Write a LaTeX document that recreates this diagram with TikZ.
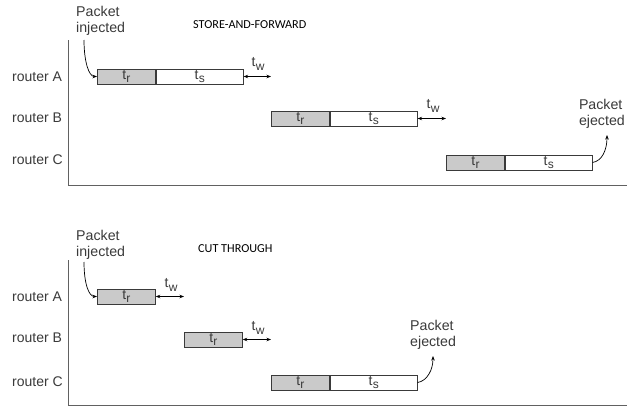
\documentclass[tikz,border=0pt]{standalone}
\usepackage{fontspec}
\setmainfont{Liberation Sans}
\newfontfamily\titlefont{Carlito}
\usetikzlibrary{arrows.meta}

\definecolor{boxgray}{HTML}{CACACA}
\definecolor{ink}{HTML}{3A3A3A}

\newcommand{\tsub}[1]{t\kern0.3pt\raisebox{-3.5pt}{\fontsize{12}{12}\selectfont #1}}

\tikzset{
  lbl/.style={font=\fontsize{14}{16}\selectfont, text=ink, inner sep=0pt},
  note/.style={font=\fontsize{14.2}{16.5}\selectfont, text=ink, inner sep=0pt, align=left},
  heading/.style={font=\titlefont\fontsize{12.2}{14}\selectfont, text=black, inner sep=0pt},
  phase/.style={draw=ink, line width=0.8pt, minimum height=15pt, inner sep=0pt,
                font=\fontsize{14}{14}\selectfont, text=ink},
  trbox/.style={phase, fill=boxgray, minimum width=58pt},
  tsbox/.style={phase, fill=white, minimum width=87pt},
  axis/.style={draw=ink!80, line width=0.9pt},
  wait/.style={draw=black, line width=0.7pt, {Stealth[length=4.5pt,width=3.5pt]}-{Stealth[length=4.5pt,width=3.5pt]}},
  tw/.style={font=\fontsize{14}{14}\selectfont, text=ink, inner sep=0pt},
  flow/.style={draw=black, line width=0.7pt, -{Stealth[length=4.5pt,width=3.5pt]}}
}

\begin{document}
\begin{tikzpicture}[x=1pt,y=-1pt]
\useasboundingbox (0,0) rectangle (627,407);

% ---------------- store-and-forward ----------------
\draw[axis] (68,40) -- (68,185) -- (627,185);
\node[heading, anchor=west] (sfhead) at (193,25) {STORE-AND-FORWARD};

\node[lbl, anchor=west] (sfA) at (12,77) {router A};
\node[lbl, anchor=west] (sfB) at (12,118) {router B};
\node[lbl, anchor=west] (sfC) at (12,160) {router C};

\node[trbox, anchor=west] (sfAr) at (97,76.5) {\tsub{r}};
\node[tsbox, anchor=west] (sfAs) at (sfAr.east) {\tsub{s}};
\node[trbox, anchor=west] (sfBr) at (271,118.5) {\tsub{r}};
\node[tsbox, anchor=west] (sfBs) at (sfBr.east) {\tsub{s}};
\node[trbox, anchor=west] (sfCr) at (446,162.5) {\tsub{r}};
\node[tsbox, anchor=west] (sfCs) at (sfCr.east) {\tsub{s}};

\coordinate (sfAw) at (271,76.5);
\coordinate (sfBw) at (446,118.5);
\draw[wait] (sfAs.east) -- (sfAw);
\draw[wait] (sfBs.east) -- (sfBw);
\node[tw] (sftw1) at (258,64) {\tsub{w}};
\node[tw] (sftw2) at (433,106) {\tsub{w}};

\node[note, anchor=north west] (sfin) at (76,6) {Packet\\injected};
\draw[flow] (84,40) .. controls (84,62) and (89,76.5) .. (sfAr.west);
\node[note, anchor=north east] (sfout) at (625,99) {Packet\\ejected};
\draw[flow] (sfCs.east) .. controls (602,161) and (607,150) .. (607,135);

% ---------------- cut through ----------------
\draw[axis] (68,260) -- (68,405) -- (627,405);
\node[heading, anchor=west] (cthead) at (198,249) {CUT THROUGH};

\node[lbl, anchor=west] (ctA) at (12,297) {router A};
\node[lbl, anchor=west] (ctB) at (12,338) {router B};
\node[lbl, anchor=west] (ctC) at (12,382) {router C};

\node[trbox, anchor=west] (ctAr) at (97,296.5) {\tsub{r}};
\node[trbox, anchor=west] (ctBr) at (184,339.5) {\tsub{r}};
\node[trbox, anchor=west] (ctCr) at (271,382.5) {\tsub{r}};
\node[tsbox, anchor=west] (ctCs) at (ctCr.east) {\tsub{s}};

\coordinate (ctAw) at (184,296.5);
\coordinate (ctBw) at (271,339.5);
\draw[wait] (ctAr.east) -- (ctAw);
\draw[wait] (ctBr.east) -- (ctBw);
\node[tw] (cttw1) at (171,285) {\tsub{w}};
\node[tw] (cttw2) at (258,328) {\tsub{w}};

\node[note, anchor=north west] (ctin) at (76,230) {Packet\\injected};
\draw[flow] (84,262) .. controls (84,284) and (89,296.5) .. (ctAr.west);
\node[note, anchor=north west] (ctout) at (410,320) {Packet\\ejected};
\draw[flow] (ctCs.east) .. controls (427,381) and (433,370) .. (433,356);
\end{tikzpicture}
\end{document}
